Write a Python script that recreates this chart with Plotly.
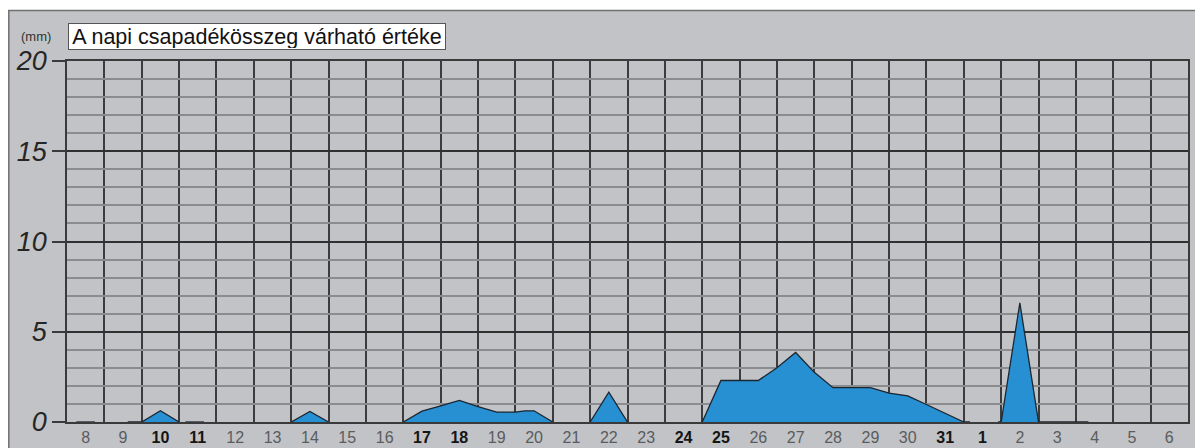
import plotly.graph_objects as go

# ---- data ----
# time offsets in hours from 8 Dec 00:00; None marks a gap (no line drawn)
hours = [6, 18, 19,
         39, 48, 60, 72, 73,
         76, 88, 89,
         144, 156, 168, 169,
         216, 228, 240, 252, 264, 276, 288, 294, 300, 312, 313,
         336, 348, 360, 361,
         408, 420, 432, 444, 456, 468, 480, 492, 504, 516, 528, 540, 552, 564, 576, 580, 581,
         598, 600, 612, 624, 656]
precip_mm = [0, 0, None,
             0, 0, 0.62, 0, None,
             0, 0, None,
             0, 0.58, 0, None,
             0, 0.6, 0.9, 1.2, 0.85, 0.55, 0.55, 0.62, 0.62, 0, None,
             0, 1.65, 0, None,
             0, 2.3, 2.3, 2.3, 3.0, 3.85, 2.75, 1.9, 1.9, 1.9, 1.6, 1.45, 0.97, 0.48, 0, 0, None,
             0, 0, 6.6, 0, 0]

day_labels = ["8", "9", "10", "11", "12", "13", "14", "15", "16", "17", "18", "19", "20",
              "21", "22", "23", "24", "25", "26", "27", "28", "29", "30", "31",
              "1", "2", "3", "4", "5", "6"]
weekend = [0, 0, 1, 1, 0, 0, 0, 0, 0, 1, 1, 0, 0,
           0, 0, 0, 1, 1, 0, 0, 0, 0, 0, 1,
           1, 0, 0, 0, 0, 0]
y_ticks = [0, 5, 10, 15, 20]

title_text = "A napi csapadékösszeg várható értéke"
unit_text = "(mm)"

# ---- figure ----
# the page body has an 8px margin, so the figure is shifted by 8px
OFF = 8
W, H = 1203 - OFF, 448 - OFF
L, R, T, B = 67 - OFF, 15, 61 - OFF, 26
pw, ph = W - L - R, H - T - B

def px_x(p):  # page pixel -> paper fraction
    return (p - OFF - L) / pw

def px_y(p):
    return (H - B - (p - OFF)) / ph

x_days = [h / 24 for h in hours]

fig = go.Figure()
fig.add_trace(go.Scatter(
    x=x_days, y=precip_mm, mode="lines",
    fill="tozeroy", fillcolor="#2690d3",
    line=dict(color="#1c2630", width=1.3),
    connectgaps=False, hoverinfo="skip", showlegend=False,
))

ticktext = []
for lab, wk in zip(day_labels, weekend):
    if wk:
        ticktext.append("<b><span style='color:#151515'>%s</span></b>" % lab)
    else:
        ticktext.append(lab)

FONT = "Liberation Sans, Arial, sans-serif"
BG = "#c1c3c6"

fig.update_layout(
    width=W, height=H,
    margin=dict(l=L, r=R, t=T, b=B, pad=0, autoexpand=False),
    paper_bgcolor="white",
    plot_bgcolor=BG,
    showlegend=False,
    xaxis=dict(
        range=[0, len(day_labels)],
        automargin=False,
        tickmode="array",
        tickvals=[i + 0.5 for i in range(len(day_labels))],
        ticktext=ticktext,
        tickfont=dict(family=FONT, size=16, color="#5a5c5e"),
        ticks="", ticklen=0,
        showgrid=False, zeroline=False,
        showline=True, linecolor="#3a3a3a", linewidth=1.5, mirror=True,
        minor=dict(tickmode="array", tickvals=list(range(1, len(day_labels))),
                   showgrid=True, gridcolor="#3c3c3c", gridwidth=1.6, ticks=""),
        fixedrange=True,
    ),
    yaxis=dict(
        range=[0, 20],
        automargin=False,
        tickmode="array", tickvals=y_ticks,
        ticktext=[str(v) for v in y_ticks],
        tickfont=dict(family=FONT, size=27, color="#262626", style="italic"),
        ticks="outside", ticklen=13, tickcolor="#3a3a3a", tickwidth=1.5,
        showgrid=True, gridcolor="#303030", gridwidth=1.6,
        zeroline=False,
        showline=True, linecolor="#3a3a3a", linewidth=1.5, mirror=True,
        minor=dict(tickmode="linear", tick0=0, dtick=1, showgrid=True,
                   gridcolor="#8a8c8f", gridwidth=2, ticks=""),
        fixedrange=True,
    ),
    shapes=[dict(
        type="rect", xref="paper", yref="paper", layer="below",
        x0=px_x(8.8), x1=px_x(1203 + 20), y0=px_y(448 + 20), y1=px_y(10.5),
        fillcolor=BG, line=dict(color="#6f6f6f", width=1.5),
    )],
    annotations=[
        dict(xref="paper", yref="paper", x=px_x(68), y=px_y(50),
             xanchor="left", yanchor="bottom", showarrow=False,
             text=title_text, width=374, height=23, align="center",
             font=dict(family=FONT, size=21.5, color="#111111"),
             bgcolor="white", bordercolor="#555555", borderwidth=1, borderpad=1),
        dict(xref="paper", yref="paper", x=px_x(36), y=px_y(37),
             xanchor="center", yanchor="middle", showarrow=False,
             text=unit_text, font=dict(family=FONT, size=13, color="#333333")),
    ],
)

fig.write_html("out.html")
